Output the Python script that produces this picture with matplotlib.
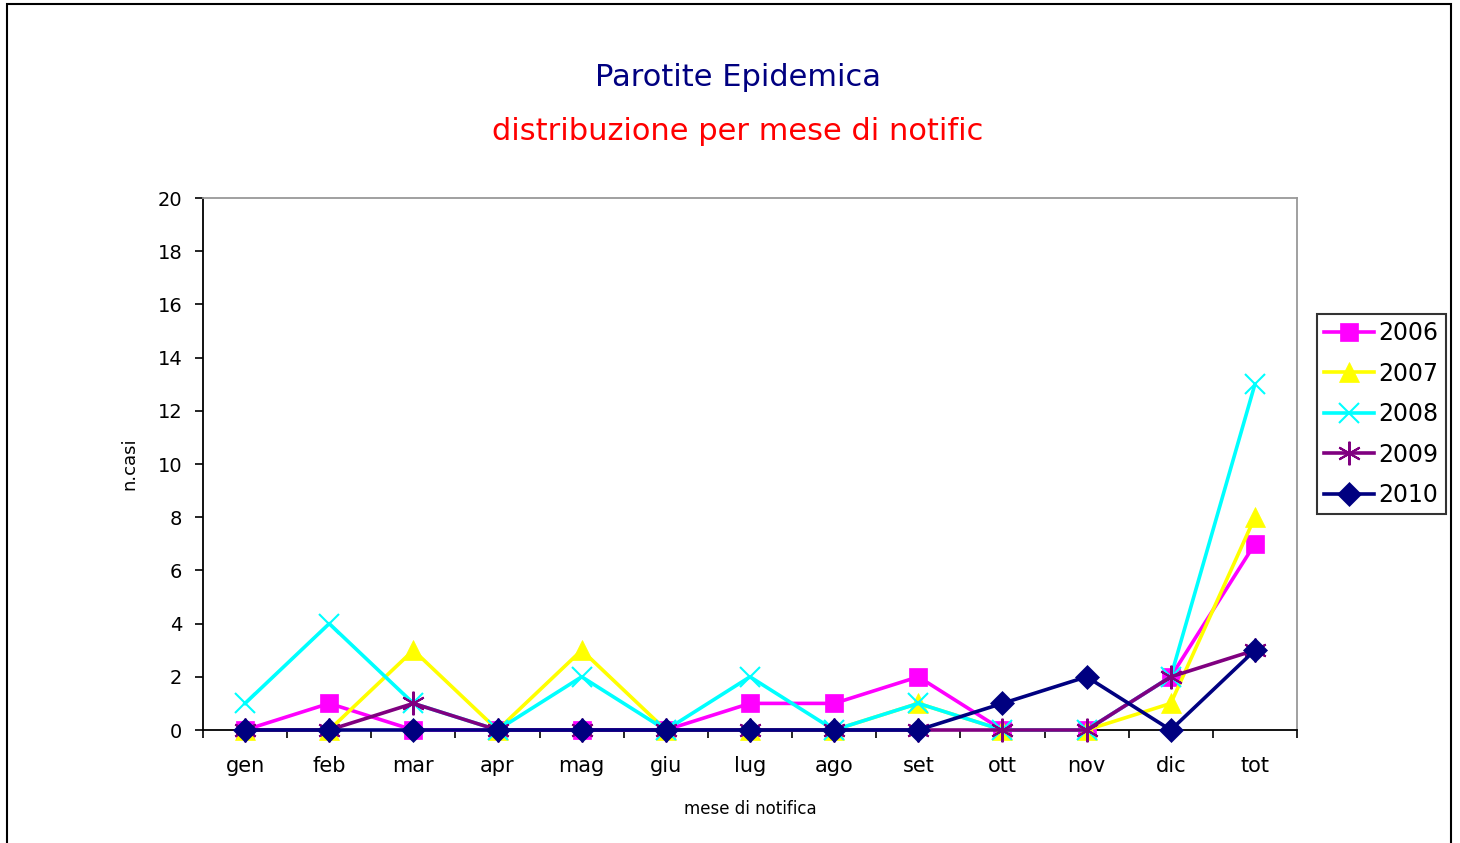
import matplotlib
matplotlib.use("Agg")
import matplotlib.pyplot as plt
from matplotlib.patches import Rectangle

# dati
mesi = ["gen", "feb", "mar", "apr", "mag", "giu", "lug", "ago", "set", "ott", "nov", "dic", "tot"]
anni = ["2006", "2007", "2008", "2009", "2010"]
casi_2006 = [0, 1, 0, 0, 0, 0, 1, 1, 2, 0, 0, 2, 7]
casi_2007 = [0, 0, 3, 0, 3, 0, 0, 0, 1, 0, 0, 1, 8]
casi_2008 = [1, 4, 1, 0, 2, 0, 2, 0, 1, 0, 0, 2, 13]
casi_2009 = [0, 0, 1, 0, 0, 0, 0, 0, 0, 0, 0, 2, 3]
casi_2010 = [0, 0, 0, 0, 0, 0, 0, 0, 0, 1, 2, 0, 3]

serie = [casi_2006, casi_2007, casi_2008, casi_2009, casi_2010]
colori = ["#FF00FF", "#FFFF00", "#00FFFF", "#800080", "#000080"]
marker = ["s", "^", "x", (6, 2, 0), "D"]
msize = [13, 15, 15, 17, 12]

plt.rcParams["font.family"] = ["DejaVu Sans"]

fig = plt.figure(figsize=(14.6, 8.43), dpi=100)
ax = fig.add_axes([203 / 1460, 113 / 843, 1094 / 1460, 532 / 843])

x = list(range(len(mesi)))
for i, valori in enumerate(serie):
    ax.plot(x, valori, color=colori[i], marker=marker[i], markersize=msize[i],
            markeredgewidth=1.5 if marker[i] in ("x", (6, 2, 0)) else 0.5,
            markeredgecolor=colori[i], linewidth=2.6, label=anni[i],
            clip_on=False, zorder=3 + i)

ax.set_xlim(-0.5, len(mesi) - 0.5)
ax.set_ylim(0, 20)
ax.set_yticks(range(0, 21, 2))
ax.tick_params(axis="y", direction="out", length=6, width=1.2, labelsize=14, pad=9)

# tacche sui bordi delle categorie, etichette al centro
ax.set_xticks([k - 0.5 for k in range(len(mesi) + 1)])
ax.set_xticklabels([])
ax.tick_params(axis="x", which="major", direction="out", length=6, width=1.2)
ax.set_xticks(x, minor=True)
ax.set_xticklabels(mesi, minor=True, fontsize=15)
ax.tick_params(axis="x", which="minor", length=0, pad=19)

for s in ["left", "bottom"]:
    ax.spines[s].set_linewidth(1.3)
    ax.spines[s].set_color("black")
for s in ["top", "right"]:
    ax.spines[s].set_linewidth(1.3)
    ax.spines[s].set_color("#999999")

ax.set_ylabel("n.casi", fontsize=13, labelpad=14)
ax.set_xlabel("mese di notifica", fontsize=12, labelpad=17)

fig.text(738 / 1460, 1 - 77 / 843, "Parotite Epidemica", color="#000080",
         fontsize=22, ha="center", va="center")
fig.text(738 / 1460, 1 - 131 / 843, "distribuzione per mese di notific", color="red",
         fontsize=22, ha="center", va="center")

leg = fig.legend(loc="upper left", bbox_to_anchor=(1317 / 1460, 1 - 314 / 843),
                 fontsize=17, frameon=True, fancybox=False, edgecolor="black",
                 handlelength=2.1, borderpad=0.3, labelspacing=0.7,
                 handletextpad=0.2, borderaxespad=0)
leg.get_frame().set_linewidth(1.5)

# bordo esterno dell'area del grafico
fig.patches.append(Rectangle((7 / 1460, -0.05), 1444 / 1460, 1.05 - 4 / 843,
                             transform=fig.transFigure, fill=False,
                             edgecolor="black", linewidth=1.5))

fig.savefig("out.png", dpi=100)
